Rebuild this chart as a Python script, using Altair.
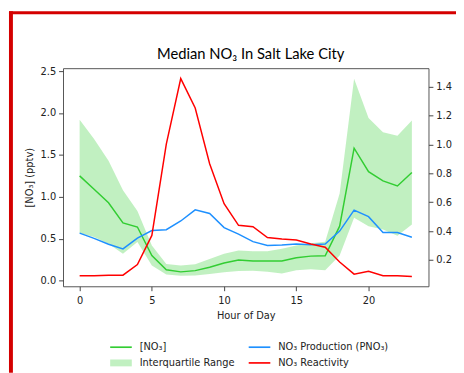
import altair as alt
import pandas as pd

# ---- data ----
hours = [0, 1, 2, 3, 4, 5, 6, 7, 8, 9, 10, 11, 12, 13, 14, 15, 16, 17, 18, 19, 20, 21, 22, 23]
no3_median = [1.25, 1.09, 0.93, 0.69, 0.64, 0.30, 0.13, 0.105, 0.12, 0.16, 0.21, 0.246,
              0.234, 0.234, 0.234, 0.273, 0.293, 0.297, 0.65, 1.58, 1.30, 1.19, 1.13, 1.29]
no3_q25 = [0.57, 0.52, 0.44, 0.32, 0.46, 0.18, 0.075, 0.06, 0.062, 0.08, 0.1, 0.115,
           0.117, 0.105, 0.086, 0.125, 0.136, 0.125, 0.30, 0.75, 0.65, 0.61, 0.535, 0.67]
no3_q75 = [1.92, 1.69, 1.43, 1.08, 0.83, 0.42, 0.20, 0.18, 0.195, 0.26, 0.32, 0.36,
           0.35, 0.35, 0.38, 0.42, 0.445, 0.465, 1.04, 2.41, 1.94, 1.77, 1.73, 1.91]
pno3 = [0.386, 0.35, 0.309, 0.277, 0.352, 0.404, 0.41, 0.47, 0.547, 0.522, 0.424, 0.379,
        0.327, 0.30, 0.304, 0.311, 0.306, 0.311, 0.40, 0.545, 0.50, 0.39, 0.39, 0.358]
reactivity = [0.091, 0.091, 0.095, 0.095, 0.168, 0.37, 1.003, 1.456, 1.252, 0.867, 0.59, 0.44,
              0.43, 0.356, 0.345, 0.338, 0.311, 0.288, 0.186, 0.102, 0.122, 0.091, 0.091, 0.086]

x_ticks = [0, 5, 10, 15, 20]
left_ticks = [0.0, 0.5, 1.0, 1.5, 2.0, 2.5]
right_ticks = [0.2, 0.4, 0.6, 0.8, 1.0, 1.2, 1.4]

title_text = "Median NO₃ In Salt Lake City"

# legend fills column by column: [NO3], IQR | Production, Reactivity
series_names = ["[NO₃]", "Interquartile Range", "NO₃ Production (PNO₃)", "NO₃ Reactivity"]
series_colors = ["#32cd32", "#c1f0c1", "#1e90ff", "#ff0000"]
line_shape = "M-2.2,-0.17H2.2V0.17H-2.2Z"
patch_shape = "M-2.2,-0.7H2.2V0.7H-2.2Z"
series_shapes = [line_shape, patch_shape, line_shape, line_shape]

GREEN, BLUE, RED = series_colors[0], series_colors[2], series_colors[3]
FONT = "DejaVu Sans"

df = pd.DataFrame({"hour": hours, "median": no3_median, "q25": no3_q25, "q75": no3_q75,
                   "pno3": pno3, "react": reactivity})
legend_df = pd.DataFrame({"series": series_names})

x_enc = alt.X("hour:Q", scale=alt.Scale(domain=[-1.15, 24.15], nice=False, zero=False),
              axis=alt.Axis(values=x_ticks, format="d", title="Hour of Day", grid=False,
                            labelPadding=5, titlePadding=5))

yl_scale = alt.Scale(domain=[-0.067, 2.535], nice=False, zero=False)
yl_axis = alt.Axis(values=left_ticks, format=".1f", title="[NO₃] (pptv)", grid=False,
                   orient="left", labelPadding=3, titlePadding=6)
yr_scale = alt.Scale(domain=[0.018, 1.528], nice=False, zero=False)
yr_axis = alt.Axis(values=right_ticks, format=".1f", title=None, grid=False,
                   orient="right", labelPadding=3)

base = alt.Chart(df)

area = base.mark_area(color=GREEN, opacity=0.3).encode(
    x=x_enc, y=alt.Y("q25:Q", scale=yl_scale, axis=yl_axis), y2="q75:Q")
green_line = base.mark_line(color=GREEN, strokeWidth=1.5).encode(
    x=x_enc, y=alt.Y("median:Q", scale=yl_scale, axis=yl_axis))

legend_props = dict(title=None, orient="none", legendX=54, legendY=279, columns=2,
                    labelFont=FONT, labelFontSize=10, labelColor="#222",
                    symbolSize=100, symbolStrokeWidth=0, labelOffset=14,
                    rowPadding=6, columnPadding=14)
legend_pts = alt.Chart(legend_df).mark_point(filled=True, opacity=1).encode(
    color=alt.Color("series:N", scale=alt.Scale(domain=series_names, range=series_colors),
                    legend=alt.Legend(**legend_props)),
    shape=alt.Shape("series:N", scale=alt.Scale(domain=series_names, range=series_shapes),
                    legend=alt.Legend(**legend_props)),
).transform_filter("false")

left = alt.layer(area, green_line, legend_pts)

blue_line = base.mark_line(color=BLUE, strokeWidth=1.5).encode(
    x=x_enc, y=alt.Y("pno3:Q", scale=yr_scale, axis=yr_axis))
red_line = base.mark_line(color=RED, strokeWidth=1.5).encode(
    x=x_enc, y=alt.Y("react:Q", scale=yr_scale, axis=yr_axis))
right = alt.layer(blue_line, red_line)

# slide-style red frame and the title text
frame_data = alt.Data(values=[{"t": title_text}])
left_bar = alt.Chart(frame_data).mark_rule(color="#d40000", strokeWidth=4).encode(
    x=alt.value(-53), y=alt.value(-58), y2=alt.value(310))
top_bar = alt.Chart(frame_data).mark_rule(color="#d40000", strokeWidth=3).encode(
    x=alt.value(-55), x2=alt.value(400), y=alt.value(-56.5))
title_mark = alt.Chart(frame_data).mark_text(
    font="Lato", fontSize=15, color="black", align="center", baseline="alphabetic"
).encode(text="t:N", x=alt.value(191), y=alt.value(-9))

chart = alt.layer(left, right, left_bar, top_bar, title_mark).resolve_scale(
    y="independent"
).properties(
    width=372, height=222,
    autosize=alt.AutoSizeParams(type="none"),
    padding={"left": 56, "top": 58, "right": 28, "bottom": 85},
).configure_view(stroke="#555", strokeWidth=1).configure_axis(
    labelFont=FONT, labelFontSize=10, labelColor="#222",
    titleFont=FONT, titleFontSize=10, titleFontWeight="normal", titleColor="#222",
    tickColor="#444", tickSize=4.5, domain=False,
)

chart.save("out.html", embed_options={"renderer": "svg", "actions": False})
